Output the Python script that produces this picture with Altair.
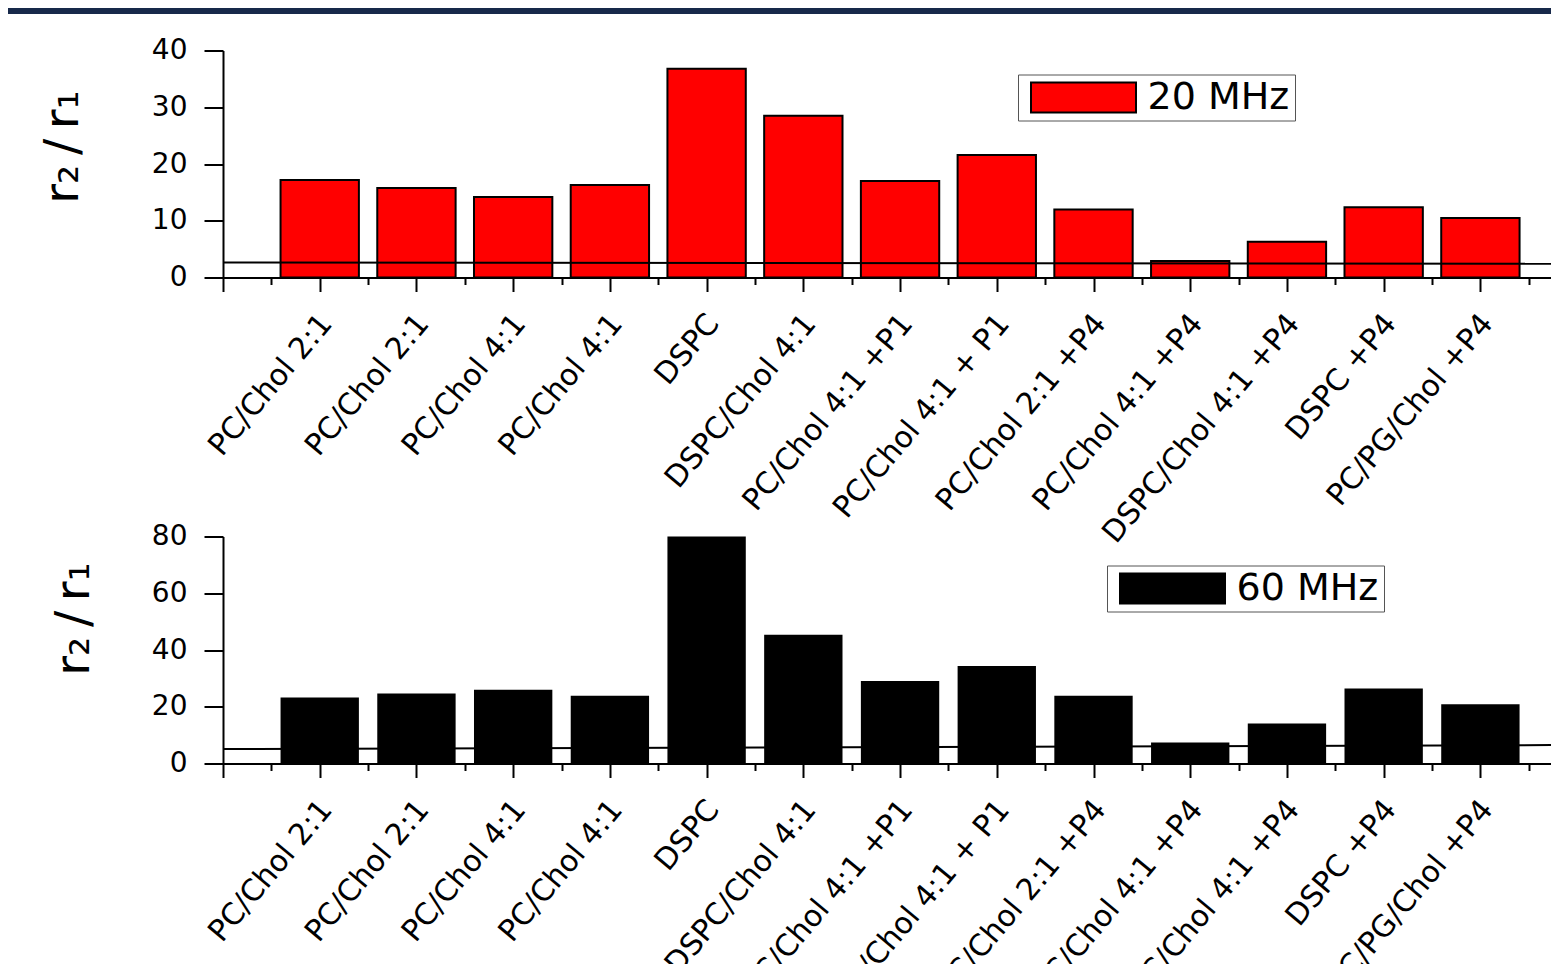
import json
import altair as alt
import pandas as pd

categories = ["PC/Chol 2:1", "PC/Chol 2:1", "PC/Chol 4:1", "PC/Chol 4:1", "DSPC",
              "DSPC/Chol 4:1", "PC/Chol 4:1 +P1", "PC/Chol 4:1 + P1", "PC/Chol 2:1 +P4",
              "PC/Chol 4:1 +P4", "DSPC/Chol 4:1 +P4", "DSPC +P4", "PC/PG/Chol +P4"]
positions = list(range(1, 14))
ratio_20 = [17.2, 15.75, 14.2, 16.3, 36.8, 28.5, 17.0, 21.6, 12.0, 2.9, 6.3, 12.4, 10.5]
ratio_60 = [23.3, 24.7, 26.0, 23.9, 80.0, 45.4, 29.1, 34.4, 23.9, 7.4, 14.1, 26.4, 20.9]
ref_x = [0, 13.73]
ref_20 = [2.64, 2.41]
ref_60 = [5.1, 6.5]
x_tick_values = [i * 0.5 for i in range(0, 28)]
y20_ticks = [0, 5, 10, 15, 20, 25, 30, 35, 40]
y60_ticks = [0, 10, 20, 30, 40, 50, 60, 70, 80]

FONT = "DejaVu Sans"
SVG_W, SVG_H = 1543, 956
PAD_L, PAD_T = 215, 42.5
W = SVG_W - PAD_L
H = 227
GAP = 259
X_DOMAIN = [0, 13.73]
YTITLE = "r\u2082\u2009/\u2009r\u2081"

names_js = json.dumps(categories)
x_label_expr = f"(datum.value % 1 === 0 && datum.value >= 1) ? {names_js}[datum.value - 1] : ''"


def x_axis():
    return alt.Axis(
        values=x_tick_values, labelExpr=x_label_expr, labelAngle=-50,
        labelAlign="right", labelBaseline="top", labelFont=FONT, labelFontSize=30,
        labelColor="black", labelPadding=17, labelOffset=-5, labelLimit=500,
        labelOverlap=False, labelFlush=False, title=None, grid=False,
        domainColor="black", domainWidth=2, tickColor="black", tickWidth=2,
        tickSize={"condition": {"test": "datum.value % 1 === 0", "value": 14}, "value": 7},
    )


def y_axis(ticks, major, title_x, title_y):
    return alt.Axis(
        values=ticks, labelExpr=f"datum.value % {major} === 0 ? datum.label : ''",
        labelFont=FONT, labelFontSize=28, labelColor="black", labelPadding=17,
        grid=False, domainColor="black", domainWidth=2, tickColor="black", tickWidth=2,
        tickSize={"condition": {"test": f"datum.value % {major} === 0", "value": 19}, "value": 10},
        title=YTITLE, titleFont=FONT, titleFontSize=48, titleFontWeight="normal",
        titleColor="black", titleAngle=-90, titleAlign="center", titleBaseline="alphabetic",
        titleX=title_x, titleY=title_y,
    )


def panel(values, ref_y, freq, color, stroke_w, ymax, ticks, major, legend_xy, title_xy, band):
    bars_df = pd.DataFrame({"pos": positions, "name": categories, "value": values, "freq": freq})
    ref_df = pd.DataFrame({"x": ref_x, "y": ref_y})
    xscale = alt.Scale(domain=X_DOMAIN, nice=False, zero=False)
    yscale = alt.Scale(domain=[0, ymax], nice=False)
    bars = alt.Chart(bars_df).transform_calculate(
        x0="datum.pos - 0.405", x1="datum.pos + 0.405"
    ).mark_bar(stroke="black", strokeWidth=stroke_w, strokeOpacity=1).encode(
        x=alt.X("x0:Q", scale=xscale, axis=x_axis()),
        x2="x1:Q",
        y=alt.Y("value:Q", scale=yscale, axis=y_axis(ticks, major, *title_xy)),
        y2=alt.datum(0),
        color=alt.Color(
            "freq:N", scale=alt.Scale(domain=[freq], range=[color]),
            legend=alt.Legend(
                title="\u00a0\u00a0\u00a0", titleOrient="right", titleFont=FONT,
                titleFontSize=38, titlePadding=2,
                orient="none", legendX=legend_xy[0], legendY=legend_xy[1],
                symbolType="M-3.5,-1H3.5V1H-3.5Z", symbolSize=900, symbolOffset=42.5,
                symbolStrokeColor="black", symbolStrokeWidth=2, symbolOpacity=1,
                labelFont=FONT, labelFontSize=38, labelColor="black", labelOffset=45,
                labelLimit=500,
                padding=4, strokeColor="#555555", fillColor="white",
            ),
        ),
    )
    line = alt.Chart(ref_df).mark_line(color="black", strokeWidth=2).encode(
        x=alt.X("x:Q", scale=xscale), y=alt.Y("y:Q", scale=yscale)
    )
    layers = [bars, line]
    if band:
        deco = alt.Chart(pd.DataFrame({"a": [0]})).mark_rule(
            color="#17294a", strokeWidth=6, strokeCap="butt"
        ).encode(x=alt.value(-PAD_L), x2=alt.value(W), y=alt.value(-39.5))
        layers.append(deco)
    return alt.layer(*layers).properties(width=W, height=H)


top = panel(ratio_20, ref_20, "20 MHz", "#ff0000", 2, 40, y20_ticks, 10, (795, 24), (-146, 96), True)
bottom = panel(ratio_60, ref_60, "60 MHz", "#000000", 0, 80, y60_ticks, 20, (884, 29), (-135, 82), False)

chart = alt.vconcat(top, bottom, spacing=GAP, bounds="flush").resolve_scale(
    color="independent", y="independent"
).resolve_legend(color="independent").properties(
    autosize=alt.AutoSizeParams(type="none"),
    padding={"left": PAD_L, "top": PAD_T, "right": 0, "bottom": SVG_H - PAD_T},
    background="white",
).configure_view(stroke=None)

chart.save("out.html", embed_options={"renderer": "svg", "actions": False})
